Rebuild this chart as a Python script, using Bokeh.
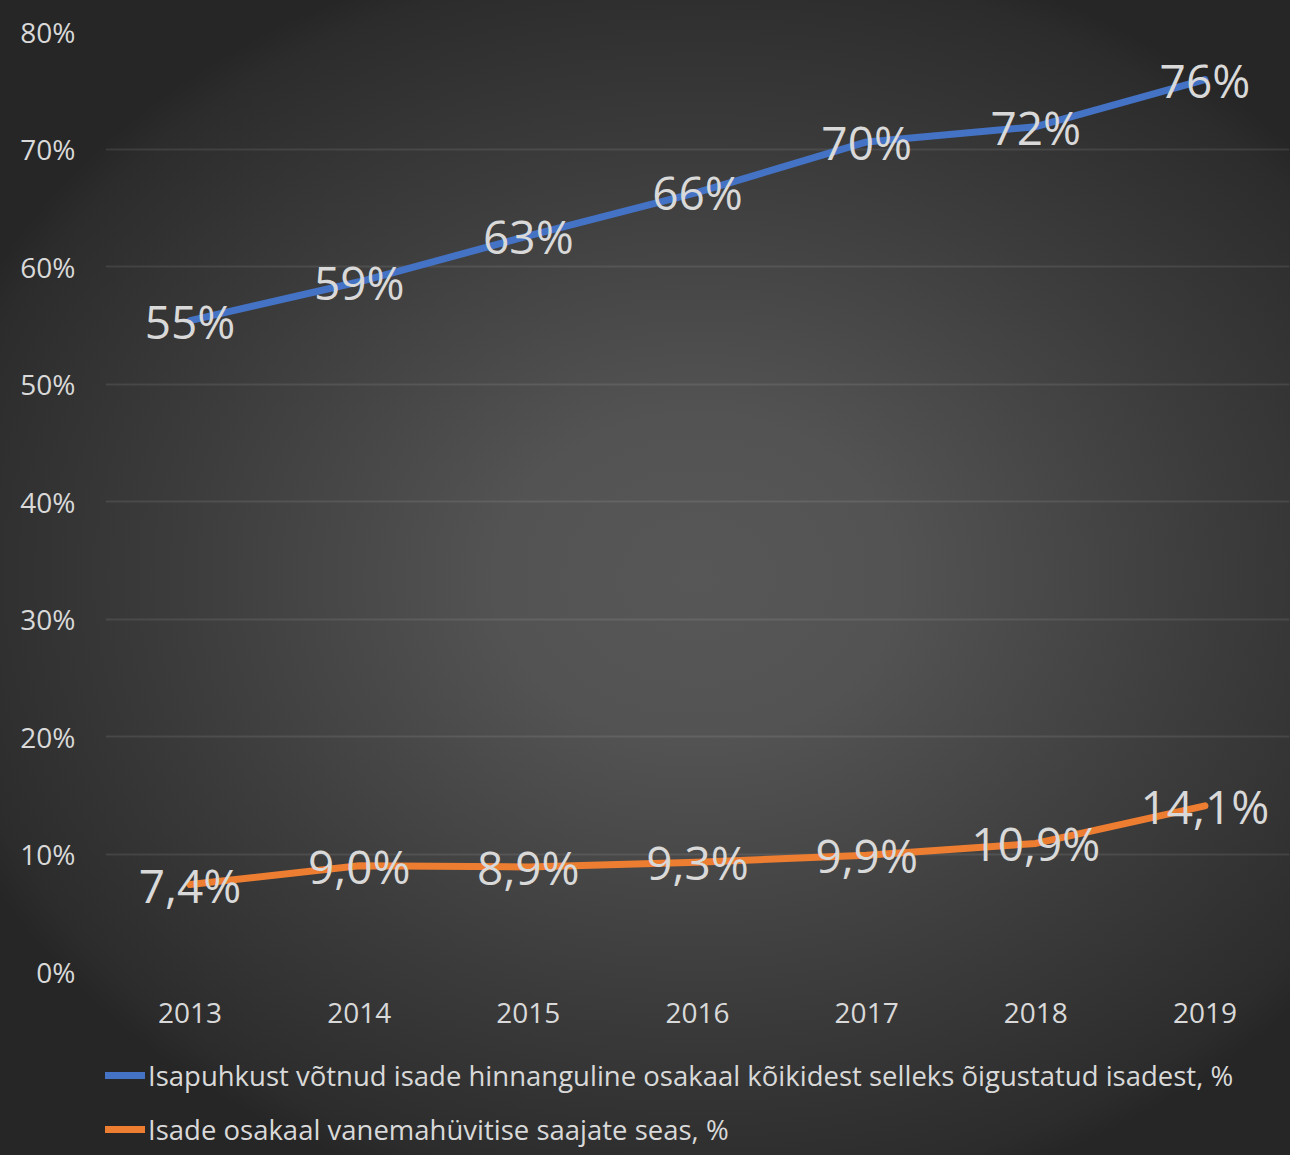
from bokeh.plotting import figure
from bokeh.layouts import column
from bokeh.models import (ColumnDataSource, FactorRange, Legend, LegendItem,
                          PrintfTickFormatter, FixedTicker)
from bokeh.core.properties import value
from bokeh.embed import file_html
from bokeh.resources import INLINE

years = ["2013", "2014", "2015", "2016", "2017", "2018", "2019"]
isapuhkus = [55.4, 58.7, 62.6, 66.3, 70.6, 71.9, 75.9]
isapuhkus_labels = ["55%", "59%", "63%", "66%", "70%", "72%", "76%"]
vanemahyvitis = [7.4, 9.0, 8.9, 9.3, 9.9, 10.9, 14.1]
vanemahyvitis_labels = ["7,4%", "9,0%", "8,9%", "9,3%", "9,9%", "10,9%", "14,1%"]
y_ticks = [0, 10, 20, 30, 40, 50, 60, 70, 80]
series_names = [
    "Isapuhkust võtnud isade hinnanguline osakaal kõikidest selleks õigustatud isadest, %",
    "Isade osakaal vanemahüvitise saajate seas, %",
]

FONT = "Open Sans"
TXT = "#d9d9d9"
BLUE = "#4472c4"
ORANGE = "#ed7d31"
LW = 7

x_range = FactorRange(*years)

p = figure(width=1290, height=1050, x_range=x_range, y_range=(0, 80),
           output_backend="svg", toolbar_location=None,
           min_border_left=105, min_border_right=1, min_border_top=31, min_border_bottom=79)
p.background_fill_alpha = 0
p.border_fill_alpha = 0
p.outline_line_color = None

p.xgrid.grid_line_color = None
p.ygrid.grid_line_color = "white"
p.ygrid.grid_line_alpha = 0.09
p.ygrid.grid_line_width = 2

p.yaxis.ticker = FixedTicker(ticks=y_ticks)
p.yaxis.formatter = PrintfTickFormatter(format="%d%%")
for ax in (p.xaxis[0], p.yaxis[0]):
    ax.axis_line_color = None
    ax.major_tick_line_color = None
    ax.minor_tick_line_color = None
    ax.major_label_text_font = FONT
    ax.major_label_text_color = TXT
    ax.major_label_text_font_size = "28px"
p.yaxis.major_label_standoff = 24
p.xaxis.major_label_standoff = 25

src1 = ColumnDataSource(dict(x=years, y=isapuhkus, t=isapuhkus_labels))
src2 = ColumnDataSource(dict(x=years, y=vanemahyvitis, t=vanemahyvitis_labels))

p.line("x", "y", source=src1, line_color=BLUE, line_width=LW,
       line_cap="round", line_join="round")
p.line("x", "y", source=src2, line_color=ORANGE, line_width=LW,
       line_cap="round", line_join="round")

for s in (src1, src2):
    p.text("x", "y", text="t", source=s, text_align="center", text_baseline="middle",
           text_font=value(FONT), text_font_size="46px", text_color=TXT)

# legend strip below the chart (same series, drawn outside this strip's visible range)
lg = figure(width=1290, height=105, output_backend="svg", toolbar_location=None,
            x_axis_type=None, y_axis_type=None, x_range=x_range, y_range=(200, 201),
            min_border_left=105, min_border_right=1, min_border_top=0, min_border_bottom=0)
lg.background_fill_alpha = 0
lg.border_fill_alpha = 0
lg.outline_line_color = None
lg.grid.grid_line_color = None
k1 = lg.line("x", "y", source=src1, line_color=BLUE, line_width=LW, line_cap="round")
k2 = lg.line("x", "y", source=src2, line_color=ORANGE, line_width=LW, line_cap="round")

legend = Legend(items=[LegendItem(label=series_names[0], renderers=[k1]),
                       LegendItem(label=series_names[1], renderers=[k2])],
                location=(0, 7), orientation="vertical",
                padding=0, margin=0, spacing=16,
                glyph_width=40, glyph_height=38, label_height=38, label_standoff=3,
                label_text_font=FONT, label_text_font_size="27.5px", label_text_color=TXT,
                background_fill_alpha=0, border_line_color=None)
lg.add_layout(legend, "center")

layout = column(p, lg, spacing=0)
layout.styles = {"background": "radial-gradient(ellipse 62% 56% at 54% 50%, #575757 0%, #535353 25%, "
                               "#3c3c3c 65%, #2c2c2c 95%, #262626 100%)"}

open("out.html", "w").write(file_html(layout, INLINE))
